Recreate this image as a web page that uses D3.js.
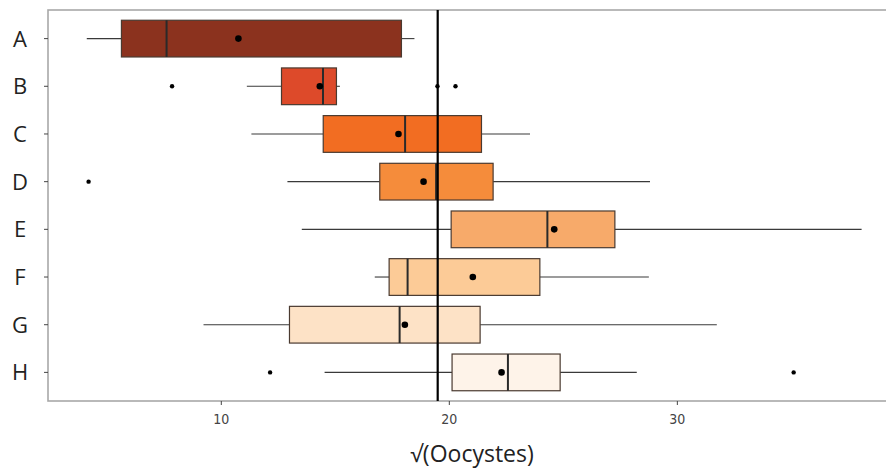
<!DOCTYPE html>
<html><head><meta charset="utf-8">
<script src="https://cdn.jsdelivr.net/npm/d3@7"></script>
<style>body{margin:0;background:#fff}svg{display:block}</style>
</head><body>
<svg id="c" width="886" height="468"></svg>
<script>
const categories = ["A","B","C","D","E","F","G","H"];
const whiskerLow  = [4.1, 11.12, 11.32, 12.9, 13.53, 16.73, 9.22, 14.53];
const q1          = [5.62, 12.64, 14.47, 16.95, 20.08, 17.36, 12.99, 20.12];
const medians     = [7.6, 14.46, 18.06, 19.42, 24.3, 18.17, 17.82, 22.57];
const q3          = [17.9, 15.05, 21.41, 21.92, 27.26, 23.97, 21.35, 24.86];
const whiskerHigh = [18.47, 15.2, 23.54, 28.8, 38.08, 28.75, 31.73, 28.22];
const means       = [10.75, 14.32, 17.77, 18.87, 24.6, 21.03, 18.05, 22.29];
const outliers    = [[], [7.84, 19.48, 20.27], [], [4.18], [], [], [], [12.14, 35.1]];
const fills = ["#8b321e","#dd4a2a","#f26d22","#f58c3b","#f7aa6a","#fccb97","#fde2c6","#fef3e9"];
const refLine = 19.49;
const xTicks = [10, 20, 30];

const svg = d3.select("#c");
const m = {l:48, t:10, r:886, b:401};
const x = d3.scaleLinear().domain([2.4, 39.15]).range([m.l, m.r]);
const y = d3.scaleBand().domain(categories).range([m.t, m.b]).paddingOuter(0.1).paddingInner(0);
const bw = y.bandwidth()*0.77;

svg.append("rect").attr("x", m.l).attr("y", m.t).attr("width", m.r - m.l + 5).attr("height", m.b - m.t)
  .attr("fill","none").attr("stroke","#a8a8a8").attr("stroke-width",1.6);

const data = categories.map((c,i)=>({c, lo:whiskerLow[i], q1:q1[i], med:medians[i], q3:q3[i], hi:whiskerHigh[i], mean:means[i], out:outliers[i], fill:fills[i]}));

const g = svg.append("g");
const row = g.selectAll("g.row").data(data).join("g").attr("class","row")
  .attr("transform", d=>`translate(0,${y(d.c)+y.bandwidth()/2})`);

row.append("line").attr("x1", d=>x(d.lo)).attr("x2", d=>x(d.q1)).attr("stroke","#3a3a3a").attr("stroke-width",1.1);
row.append("line").attr("x1", d=>x(d.q3)).attr("x2", d=>x(d.hi)).attr("stroke","#3a3a3a").attr("stroke-width",1.1);
row.append("rect").attr("x", d=>x(d.q1)).attr("width", d=>x(d.q3)-x(d.q1)).attr("y",-bw/2).attr("height",bw)
  .attr("fill", d=>d.fill).attr("stroke","#4a3a30").attr("stroke-width",1.2);
row.append("line").attr("x1", d=>x(d.med)).attr("x2", d=>x(d.med)).attr("y1",-bw/2).attr("y2",bw/2)
  .attr("stroke","#2a2a2a").attr("stroke-width",2);
row.selectAll("circle.out").data(d=>d.out).join("circle").attr("class","out")
  .attr("cx", v=>x(v)).attr("cy",0).attr("r",2.2).attr("fill","#000");
row.append("circle").attr("cx", d=>x(d.mean)).attr("cy",0).attr("r",3.3).attr("fill","#000");

svg.append("line").attr("x1", x(refLine)).attr("x2", x(refLine)).attr("y1", m.t).attr("y2", m.b)
  .attr("stroke","#000").attr("stroke-width",2.2);

const ya = svg.append("g");
categories.forEach(c=>{
  const yy = y(c)+y.bandwidth()/2;
  ya.append("line").attr("x1", m.l-4).attr("x2", m.l).attr("y1", yy).attr("y2", yy).attr("stroke","#444").attr("stroke-width",1);
  ya.append("text").attr("x", 20).attr("y", yy).attr("dy","0.36em").attr("text-anchor","middle")
    .attr("font-family","'Open Sans', 'Noto Sans', sans-serif").attr("font-size",22).attr("fill","#222").text(c);
});

const xa = svg.append("g");
xTicks.forEach(t=>{
  xa.append("line").attr("x1", x(t)).attr("x2", x(t)).attr("y1", m.b).attr("y2", m.b+4).attr("stroke","#444");
  xa.append("text").attr("x", x(t)).attr("y", m.b+23).attr("text-anchor","middle")
    .attr("font-family","'DejaVu Sans Condensed','Liberation Sans Narrow',sans-serif")
    .attr("font-size",14).attr("fill","#444").text(t);
});
svg.append("text").attr("x", 472).attr("y", 462).attr("text-anchor","middle")
  .attr("font-family","'Open Sans', 'Noto Sans', sans-serif").attr("font-size",23).attr("fill","#222").text("√(Oocystes)");
</script>
</body></html>
